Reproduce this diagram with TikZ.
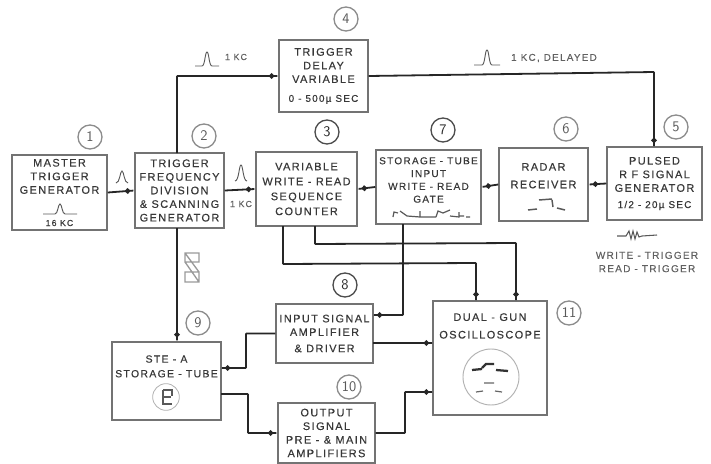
\documentclass[tikz,border=0pt]{standalone}
\usepackage{fontspec}
\usepackage{tikz}
\usetikzlibrary{arrows.meta,calc}
\newfontfamily\labelfont[LetterSpace=13,FakeBold=0.35]{Liberation Sans}
\tikzset{
    blockbox/.style={draw=black!55, line width=1.1pt, fill=white, align=center, inner sep=0pt,
        text=black!78, font=\labelfont\fontsize{8.2}{10.2}\selectfont},
    boxsize/.style 2 args={minimum width=#1*0.75pt, minimum height=#2*0.75pt},
    numring/.style={circle, draw=black!45, line width=1pt, minimum size=18pt, inner sep=0pt,
        text=black!65, font=\sffamily\fontsize{11}{11}\selectfont},
    tinytext/.style={text=black!62, inner sep=0pt, font=\labelfont\fontsize{6.6}{9.6}\selectfont},
    wire/.style={line width=1.35pt, black!85, rounded corners=0.5pt},
    sig/.style={wire, -{Circle[length=4pt,sep=0pt]Rectangle[length=3pt,width=1.35pt]}},
    wave/.style={line width=0.7pt, black!65}
}
\begin{document}
\begin{tikzpicture}[x=0.75pt, y=-0.75pt]
    \useasboundingbox (0,0) rectangle (711,464);

    \node[blockbox, boxsize={95}{75}] (master) at (59.5,192.5) {MASTER\\TRIGGER\\GENERATOR\\[14pt]\fontsize{6.5}{7}\selectfont 16 KC};
    \node[blockbox, boxsize={89}{75}] (freq) at (179.5,190.5) {TRIGGER\\FREQUENCY\\DIVISION\\\& SCANNING\\GENERATOR};
    \node[blockbox, boxsize={101}{74}] (counter) at (306.5,189) {VARIABLE\\[1pt]WRITE - READ\\[1pt]SEQUENCE\\[1pt]COUNTER};
    \node[blockbox, boxsize={89}{72}] (delay) at (323.5,76) {TRIGGER\\DELAY\\VARIABLE\\[4pt]\fontsize{7.4}{8}\selectfont 0 - 500\textmu\ SEC};
    \node[blockbox, boxsize={95}{73}] (pulsed) at (654.5,183.5) {PULSED\\R F  SIGNAL\\GENERATOR\\[2pt]\fontsize{7.4}{8}\selectfont 1/2 - 20\textmu\ SEC};
    \node[blockbox, boxsize={89}{73}] (radar) at (543.5,184.5) {RADAR\\[3pt]RECEIVER\\[3pt]~};
    \node[blockbox, boxsize={105}{74}, font=\labelfont\fontsize{7.5}{9.6}\selectfont] (gate) at (428.5,187) {STORAGE - TUBE\\INPUT\\WRITE - READ\\GATE\\[1pt]~};
    \node[blockbox, boxsize={97}{59}] (driver) at (324.5,333.5) {INPUT SIGNAL\\AMPLIFIER\\[2pt]\&\ DRIVER};
    \node[blockbox, boxsize={109}{78}, font=\labelfont\fontsize{7.8}{10}\selectfont] (tube) at (166.5,381) {STE - A\\[1pt]STORAGE - TUBE\\[12pt]~};
    \node[blockbox, boxsize={97}{60}] (output) at (326.5,433) {OUTPUT\\SIGNAL\\PRE - \& MAIN\\AMPLIFIERS};
    \node[blockbox, boxsize={114}{114}] (scope) at (490,358) {DUAL - GUN\\[3pt]OSCILLOSCOPE\\[38pt]~};

    \foreach \x/\y/\num in {90/137/1, 204/136/2, 346/19/4, 676/127/5, 566/129/6, 198/323/9, 349/387/10, 569/313/11}
        \node[numring] (ring\num) at (\x,\y) {\num};
    \foreach \x/\y/\num in {327/132/3, 443/130/7, 345/285/8}
        \node[numring, draw=black!70, text=black!85] (ring\num) at (\x,\y) {\num};

    % signal path along the top row
    \draw[sig] (master.east) -- (freq.west);
    \draw[sig] (freq.east) -- (counter.west);
    \draw[sig] (gate.west) -- (counter.east);
    \draw[sig] (radar.west) -- (gate.east);
    \draw[sig] (pulsed.west) -- (radar.east);

    % trigger line through the delay
    \coordinate (freqout) at (177,153);
    \coordinate (freqdown) at (177,228);
    \coordinate (pulsedin) at (654,147);
    \draw[sig] (freqout) |- (delay.west);
    \draw[sig] (delay.east) -- (654,72) -- (pulsedin);
    \draw[sig] (freqdown) -- (freqdown|-tube.north);

    % counter down to the scope
    \coordinate (countera) at (283,226);
    \coordinate (counterb) at (315,226);
    \coordinate (scopea) at (476,301);
    \coordinate (scopeb) at (516,301);
    \draw[sig] (countera) -- (283,264) -- (476,263) -- (scopea);
    \draw[sig] (counterb) -- (315,244) -- (516,243) -- (scopeb);

    % gate down to the driver
    \coordinate (gateout) at (403,224);
    \coordinate (driverin) at (373,315);
    \draw[sig] (gateout) |- (driverin);

    % tube, amplifiers and scope
    \coordinate (tubea) at (221,368);
    \coordinate (tubeb) at (221,394);
    \coordinate (driverout) at (373,343);
    \coordinate (scopec) at (433,343);
    \coordinate (scoped) at (433,392);
    \coordinate (bendone) at (246,368);
    \draw[sig] (driver.west) -| (bendone) -- (tubea);
    \draw[sig] (tubeb) -- (248,394) |- (output.west);
    \draw[sig] (driverout) -- (scopec);
    \draw[sig] (output.east) -- (405,433) |- (scoped);

    % labels beside the lines
    \node[tinytext] (lbla) at (236,57) {1 KC};
    \node[tinytext] (lblb) at (241,204) {1 KC};
    \node[tinytext, font=\labelfont\fontsize{7.4}{8}\selectfont] (lblc) at (554,58) {1 KC, DELAYED};
    \node[tinytext, align=center, font=\labelfont\fontsize{7.5}{10}\selectfont] (lbld) at (647,262) {WRITE - TRIGGER\\READ - TRIGGER};

    % pulses
    \foreach \x/\y/\w/\h in {122/183/6/12, 241/181/6/16}
        \draw[wave] (\x-\w,\y) .. controls (\x-2,\y) and (\x-2,\y-\h) .. (\x,\y-\h) .. controls (\x+2,\y-\h) and (\x+2,\y) .. (\x+\w,\y);
    \foreach \x/\y/\w/\h in {60/214/17/10, 207/66/12/14, 487/65/13/15}
        \draw[wave] (\x-\w,\y) -- (\x-5,\y) .. controls (\x-2,\y) and (\x-2,\y-\h) .. (\x,\y-\h) .. controls (\x+2,\y-\h) and (\x+2,\y) .. (\x+5,\y) -- (\x+\w,\y);

    % radar and gate traces
    \draw[wave, line width=1.1pt] (528,210) -- (537,209) (539,200) -- (552,199) (552,200) -- (553,207) (557,208) -- (565,210);
    \draw[wave, line width=0.9pt] (393,217) -- (394,212) -- (398,213) (400,211) -- (407,216) -- (420,217) -- (420,211)
        (420,217) -- (436,217) (436,217) -- (438,211) -- (443,213) -- (450,210) (450,216) -- (459,217) -- (459,212)
        (459,216) -- (464,216) (466,217) -- (470,217);

    % scan waveform on the line
    \draw[wave, black!40, line width=1pt] (185,253) rectangle (199,262) (185,272) rectangle (199,282) (185,253) -- (199,272) (185,262) -- (199,282);

    % write and read squiggle
    \draw[wave, line width=0.8pt] (617,236) -- (626,236) -- (629,231) -- (631,239) -- (633,231) -- (635,239) -- (637,232) -- (639,237) -- (642,236) -- (657,235);

    % tube face
    \node[circle, draw=black!30, line width=0.6pt, minimum size=20pt, inner sep=0pt] (tubeface) at (166,397) {};
    \draw[wave, line width=0.9pt] (163,390) -- (172,390) -- (172,396) (163,390) -- (163,404) -- (172,404) (163,397) -- (171,397);

    % scope face and traces
    \node[circle, draw=black!30, line width=0.7pt, minimum size=42pt, inner sep=0pt] (scopeface) at (491,377) {};
    \draw[black!80, line width=1.7pt] (472,370) -- (482,369) (482,368) -- (486,364) -- (494,364) (496,370) -- (508,371);
    \draw[black!60, line width=0.9pt] (484,383) -- (494,383) (476,392) -- (483,391) (495,391) -- (502,392);
\end{tikzpicture}
\end{document}
